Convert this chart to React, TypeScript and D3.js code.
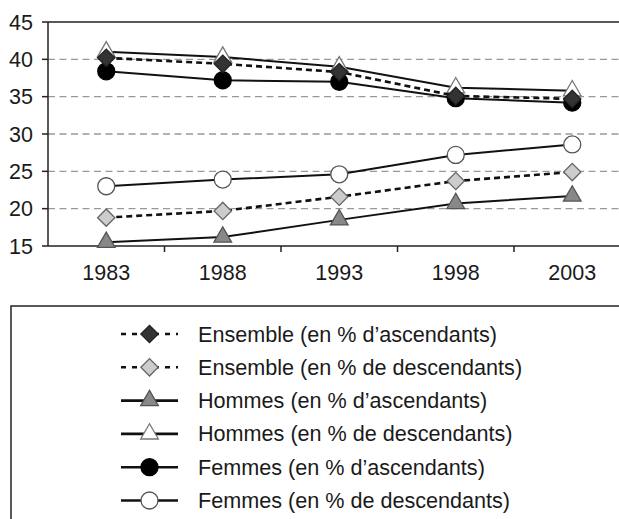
import * as d3 from 'd3'

const years = ['1983', '1988', '1993', '1998', '2003']
const yTicks = [15, 20, 25, 30, 35, 40, 45]
const gridValues = [20, 25, 30, 35, 40]

const ensembleAsc = [40.2, 39.4, 38.3, 35.1, 34.7]
const ensembleDesc = [18.8, 19.7, 21.6, 23.7, 24.9]
const hommesAsc = [15.5, 16.2, 18.5, 20.7, 21.7]
const hommesDesc = [41.0, 40.3, 39.0, 36.2, 35.8]
const femmesAsc = [38.4, 37.2, 37.0, 34.8, 34.2]
const femmesDesc = [23.0, 23.9, 24.6, 27.2, 28.6]

type Shape = 'diamond' | 'triangle' | 'circle'

type Series = {
  label: string
  values: number[]
  dashed: boolean
  shape: Shape
  fill: string
  stroke: string
}

const series: Series[] = [
  { label: 'Ensemble (en % d’ascendants)', values: ensembleAsc, dashed: true, shape: 'diamond', fill: '#333333', stroke: '#222222' },
  { label: 'Ensemble (en % de descendants)', values: ensembleDesc, dashed: true, shape: 'diamond', fill: '#cccccc', stroke: '#666666' },
  { label: 'Hommes (en % d’ascendants)', values: hommesAsc, dashed: false, shape: 'triangle', fill: '#888888', stroke: '#555555' },
  { label: 'Hommes (en % de descendants)', values: hommesDesc, dashed: false, shape: 'triangle', fill: '#ffffff', stroke: '#777777' },
  { label: 'Femmes (en % d’ascendants)', values: femmesAsc, dashed: false, shape: 'circle', fill: '#000000', stroke: '#000000' },
  { label: 'Femmes (en % de descendants)', values: femmesDesc, dashed: false, shape: 'circle', fill: '#ffffff', stroke: '#555555' },
]

const width = 619
const height = 519
const left = 48
const top = 22
const bottom = 246
const right = 630.5
const font = '"Liberation Sans", Arial, sans-serif'

// marker path for each shape, centred on 0,0
function markerPath(shape: Shape) {
  if (shape === 'diamond') return d3.symbol(d3.symbolSquare, 150)()
  if (shape === 'triangle') return d3.symbol(d3.symbolTriangle, 135)()
  return d3.symbol(d3.symbolCircle, 227)()
}

function Marker({ s, x, y }: { s: Series; x: number; y: number }) {
  const rot = s.shape === 'diamond' ? ' rotate(45)' : ''
  return (
    <path
      d={markerPath(s.shape) || ''}
      transform={`translate(${x},${y})${rot}`}
      fill={s.fill}
      stroke={s.stroke}
      strokeWidth={1.3}
    />
  )
}

export default function App() {
  const xBand = d3.scaleBand(years, [left, right]).paddingInner(0).paddingOuter(0)
  const xc = (yr: string) => (xBand(yr) ?? 0) + xBand.bandwidth() / 2
  const y = d3.scaleLinear([15, 45], [bottom, top])

  const line = d3
    .line<number>()
    .x((_, i) => xc(years[i]))
    .y((v) => y(v))

  const legendTop = 334
  const legendStep = 33.3

  return (
    <svg
      width={width}
      height={height}
      style={{ position: 'absolute', left: 0, top: 0, background: '#fff' }}
      fontFamily={font}
    >
      {/* grid */}
      {gridValues.map((v) => (
        <line key={v} x1={left} x2={width} y1={y(v)} y2={y(v)} stroke="#999" strokeWidth={1.3} strokeDasharray="7,4.5" />
      ))}
      {/* frame */}
      <line x1={left} x2={width} y1={top} y2={top} stroke="#222" strokeWidth={1.5} />
      <line x1={left} x2={width} y1={bottom} y2={bottom} stroke="#222" strokeWidth={1.5} />
      <line x1={left} x2={left} y1={top} y2={bottom} stroke="#222" strokeWidth={1.5} />

      {/* y axis */}
      {yTicks.map((v) => (
        <g key={v} transform={`translate(0,${y(v)})`}>
          <line x1={left - 6} x2={left} stroke="#222" strokeWidth={1.5} />
          <text x={33} dy="0.35em" textAnchor="end" fontSize={21.5} fill="#1a1a1a">
            {v}
          </text>
        </g>
      ))}

      {/* x axis */}
      {years.map((yr, i) => (
        <g key={yr}>
          {i > 0 && <line x1={xBand(yr)} x2={xBand(yr)} y1={bottom} y2={bottom + 6} stroke="#222" strokeWidth={1.5} />}
          <text x={xc(yr)} y={280} textAnchor="middle" fontSize={21.5} fill="#1a1a1a">
            {yr}
          </text>
        </g>
      ))}

      {/* series, first one drawn last */}
      {[...series].reverse().map((s) => (
        <g key={s.label}>
          <path
            d={line(s.values) || ''}
            fill="none"
            stroke="#111"
            strokeWidth={s.dashed ? 2.6 : 2}
            strokeDasharray={s.dashed ? '6,4' : undefined}
          />
          {s.values.map((v, i) => (
            <Marker key={i} s={s} x={xc(years[i])} y={y(v)} />
          ))}
        </g>
      ))}

      {/* legend */}
      <rect x={11} y={306} width={width} height={height} fill="none" stroke="#222" strokeWidth={1.5} />
      {series.map((s, i) => {
        const ly = legendTop + i * legendStep
        return (
          <g key={s.label}>
            <line
              x1={121}
              x2={178}
              y1={ly}
              y2={ly}
              stroke="#111"
              strokeWidth={2.6}
              strokeDasharray={s.dashed ? '5,6' : undefined}
            />
            <Marker s={s} x={149.5} y={ly} />
            <text x={198} y={ly} dy="0.35em" fontSize={21.6} fill="#1a1a1a">
              {s.label}
            </text>
          </g>
        )
      })}
    </svg>
  )
}
